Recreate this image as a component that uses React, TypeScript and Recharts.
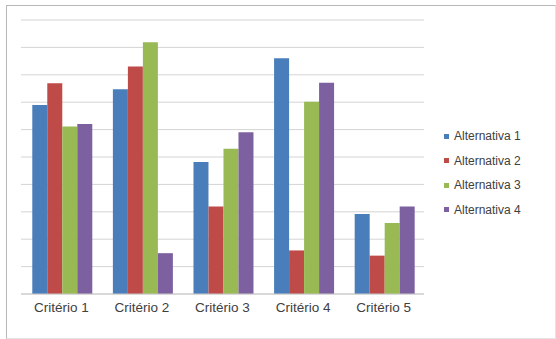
import React from "react";
import { BarChart, Bar, XAxis, YAxis, CartesianGrid } from "recharts";

const categories = ["Critério 1", "Critério 2", "Critério 3", "Critério 4", "Critério 5"];
const alternativa1 = [6.9, 7.47, 4.82, 8.6, 2.92];
const alternativa2 = [7.69, 8.3, 3.19, 1.59, 1.4];
const alternativa3 = [6.11, 9.19, 5.3, 7.02, 2.59];
const alternativa4 = [6.2, 1.49, 5.9, 7.71, 3.19];
const seriesNames = ["Alternativa 1", "Alternativa 2", "Alternativa 3", "Alternativa 4"];
const seriesColors = ["#4A7EBB", "#BE4B48", "#98B954", "#7D60A0"];
const yTicks = [0, 1, 2, 3, 4, 5, 6, 7, 8, 9, 10];

const rows = categories.map((name, i) => ({
  name,
  a1: alternativa1[i],
  a2: alternativa2[i],
  a3: alternativa3[i],
  a4: alternativa4[i],
}));
const keys = ["a1", "a2", "a3", "a4"];

const LegendList = () => (
  <div
    style={{
      position: "absolute",
      left: 444,
      top: 124,
      fontFamily: "'Liberation Sans', Arial, sans-serif",
      fontSize: 12,
      color: "#404040",
    }}
  >
    {seriesNames.map((n, i) => (
      <div key={n} style={{ display: "flex", alignItems: "center", height: 24.5 }}>
        <span style={{ display: "inline-block", width: 5, height: 5, background: seriesColors[i], marginRight: 5 }} />
        <span>{n}</span>
      </div>
    ))}
  </div>
);

export default function App() {
  return (
    <div style={{ position: "absolute", left: 0, top: 0, width: 556, height: 339, background: "#fff" }}>
      <div
        style={{
          position: "absolute",
          left: 6,
          top: 5,
          width: 548,
          height: 332,
          borderLeft: "1px solid #b8b8b8",
          borderTop: "1px solid #b8b8b8",
          borderRight: "1px solid #e4e4e4",
          borderBottom: "1px solid #e4e4e4",
        }}
      />
      <div style={{ position: "absolute", left: 0, top: 0 }}>
        <BarChart
          width={556}
          height={339}
          data={rows}
          margin={{ top: 20, right: 132, bottom: 15, left: 21 }}
          barCategoryGap="14%"
          barGap={0}
        >
          <CartesianGrid horizontal vertical={false} stroke="#d4d4d4" />
          <YAxis hide domain={[0, 10]} ticks={yTicks} interval={0} />
          <XAxis
            dataKey="name"
            height={30}
            tickLine={false}
            axisLine={{ stroke: "#c8c8c8" }}
            tick={{ fill: "#404040", fontSize: 13.5, fontFamily: "'Liberation Sans', Arial, sans-serif" }}
          />
          {keys.map((k, i) => (
            <Bar key={k} dataKey={k} name={seriesNames[i]} fill={seriesColors[i]} isAnimationActive={false} />
          ))}
        </BarChart>
      </div>
      <LegendList />
    </div>
  );
}
